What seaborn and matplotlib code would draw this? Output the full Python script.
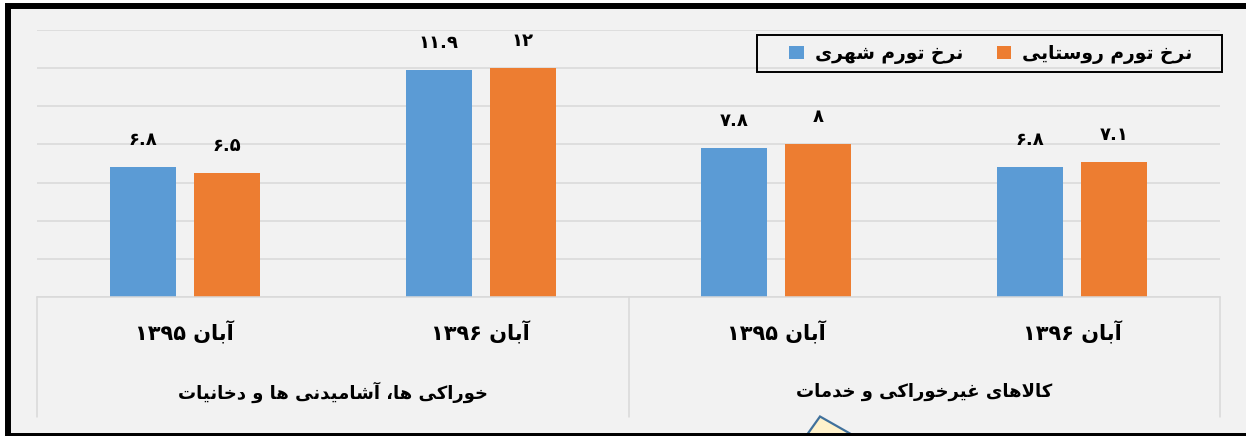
import re
import numpy as np
import pandas as pd
import matplotlib
matplotlib.use("Agg")
import matplotlib.pyplot as plt
import seaborn as sns
from matplotlib.patches import Rectangle, Polygon
from matplotlib.lines import Line2D
from matplotlib.transforms import blended_transform_factory

# ---------------------------------------------------------------------------
# DATA (left to right as shown on the chart)
# ---------------------------------------------------------------------------
periods = ["آبان ۱۳۹۵", "آبان ۱۳۹۶", "آبان ۱۳۹۵", "آبان ۱۳۹۶"]
groups = ["خوراکی ها، آشامیدنی ها و دخانیات", "کالاهای غیرخوراکی و خدمات"]
series = ["نرخ تورم شهری", "نرخ تورم روستایی"]
urban = [6.8, 11.9, 7.8, 6.8]
rural = [6.5, 12.0, 8.0, 7.1]

BLUE = "#5b9bd5"
ORANGE = "#ed7d31"
GRID = "#d9d9d9"
BG = "#f2f2f2"

# ---------------------------------------------------------------------------
# minimal Persian shaping (matplotlib has no bidi / joining support)
# forms: isolated, final, initial, medial
# ---------------------------------------------------------------------------
FORMS = {
    "\u0627": "\uFE8D\uFE8E",              # ا
    "\u0622": "\uFE81\uFE82",              # آ
    "\u062F": "\uFEA9\uFEAA",              # د
    "\u0631": "\uFEAD\uFEAE",              # ر
    "\u0648": "\uFEED\uFEEE",              # و
    "\u0628": "\uFE8F\uFE90\uFE91\uFE92",  # ب
    "\u062A": "\uFE95\uFE96\uFE97\uFE98",  # ت
    "\u062E": "\uFEA5\uFEA6\uFEA7\uFEA8",  # خ
    "\u0633": "\uFEB1\uFEB2\uFEB3\uFEB4",  # س
    "\u0634": "\uFEB5\uFEB6\uFEB7\uFEB8",  # ش
    "\u063A": "\uFECD\uFECE\uFECF\uFED0",  # غ
    "\u0644": "\uFEDD\uFEDE\uFEDF\uFEE0",  # ل
    "\u0645": "\uFEE1\uFEE2\uFEE3\uFEE4",  # م
    "\u0646": "\uFEE5\uFEE6\uFEE7\uFEE8",  # ن
    "\u0647": "\uFEE9\uFEEA\uFEEB\uFEEC",  # ه
    "\u06CC": "\uFBFC\uFBFD\uFBFE\uFBFF",  # ی
    "\u06A9": "\uFB8E\uFB8F\uFB90\uFB91",  # ک
}
LAM_ALEF = {"\u0627": "\uFEFB\uFEFC", "\u0622": "\uFEF5\uFEF6"}
DIGITS = "۰۱۲۳۴۵۶۷۸۹"


def joins_next(ch):
    return ch in FORMS and len(FORMS[ch]) == 4


def shape(text):
    out = []
    i = 0
    while i < len(text):
        ch = text[i]
        prev = text[i - 1] if i > 0 else ""
        nxt = text[i + 1] if i + 1 < len(text) else ""
        if ch not in FORMS:
            out.append(ch)
            i += 1
            continue
        linked = joins_next(prev)
        if ch == "\u0644" and nxt in LAM_ALEF:
            out.append(LAM_ALEF[nxt][1 if linked else 0])
            i += 2
            continue
        forward = joins_next(ch) and nxt in FORMS
        idx = {(False, False): 0, (True, False): 1,
               (False, True): 2, (True, True): 3}[(linked, forward)]
        out.append(FORMS[ch][idx])
        i += 1
    return "".join(out)


def fa(text):
    """shape + put into visual (left-to-right) order, numbers stay LTR"""
    runs = re.findall(r"[۰-۹.]+|[^۰-۹.]+", shape(text))
    return "".join(r if r[0] in DIGITS else r[::-1] for r in reversed(runs))


def fa_num(v):
    return f"{v:g}".translate(str.maketrans("0123456789", DIGITS))


# ---------------------------------------------------------------------------
# table for seaborn
# ---------------------------------------------------------------------------
keys = [f"p{i}" for i in range(len(periods))]
df = pd.DataFrame({
    "key": keys * 2,
    "series": [fa(series[0])] * len(keys) + [fa(series[1])] * len(keys),
    "value": urban + rural,
})

sns.set_theme(style="white")
plt.rcParams["font.family"] = ["DejaVu Sans"]
plt.rcParams["font.weight"] = "bold"
plt.rcParams["text.color"] = "black"
plt.rcParams["xtick.color"] = "black"

W, H = 1246, 436
fig = plt.figure(figsize=(W / 100, H / 100), dpi=100, facecolor="white")

# outer frame + background
fig.add_artist(Rectangle((7.5 / W, 0), 1.5, 1 - 6 / H, transform=fig.transFigure,
                         facecolor=BG, edgecolor="none", zorder=-3))
fig.add_artist(Polygon([(803 / W, -0.01), (820 / W, 1 - 416.5 / H), (862 / W, -0.01)],
                       closed=True, transform=fig.transFigure, facecolor="#fff2cc",
                       edgecolor="#41719c", lw=1.6, zorder=-2))
fig.add_artist(Rectangle((7.5 / W, 0), 1.5, 1 - 6 / H, transform=fig.transFigure,
                         fill=False, edgecolor="black", lw=4.3, zorder=5))

ax = fig.add_axes([37 / W, 1 - 297 / H, (1220 - 37) / W, 267 / H])
ax.set_facecolor("none")

sns.barplot(data=df, x="key", y="value", hue="series", order=keys,
            hue_order=[fa(s) for s in series], palette=[BLUE, ORANGE],
            width=0.568, gap=0.213, saturation=1, linewidth=0, ax=ax)

ax.set_ylim(0, 14)
ax.set_xlim(-0.5, len(keys) - 0.5)
ax.set_yticks(np.arange(0, 15, 2))
ax.yaxis.grid(True, color=GRID, lw=1.1)
ax.set_axisbelow(True)
ax.tick_params(axis="y", length=0, labelleft=False)
ax.tick_params(axis="x", length=0, pad=17)
ax.set_xticks(range(len(keys)))
ax.set_xticklabels([fa(p) for p in periods], fontsize=15, fontweight="bold",
                   color="black")
ax.set_xlabel("")
ax.set_ylabel("")
for side in ["top", "right", "left"]:
    ax.spines[side].set_visible(False)
ax.spines["bottom"].set_color(GRID)
ax.spines["bottom"].set_linewidth(1.1)

# value labels
for cont, vals in zip(ax.containers, [urban, rural]):
    ax.bar_label(cont, labels=[fa_num(v) for v in vals], padding=13,
                 fontsize=13, fontweight="bold", color="black")

# category dividers and group labels below the axis
tr = blended_transform_factory(ax.transData, ax.transAxes)
for xpos in [-0.5, 1.5, 3.5]:
    ax.add_line(Line2D([xpos, xpos], [0, -120 / 267], transform=tr,
                       color=GRID, lw=1.1, clip_on=False))
for gi, g in enumerate(groups):
    ax.text(gi * 2 + 0.5, -95 / 267, fa(g), transform=tr, ha="center", va="center",
            fontsize=13, fontweight="bold", color="black")

# legend: entries centred in a box drawn separately (box padding as in Excel)
ax.get_legend().remove()
handles, labels = ax.get_legend_handles_labels()
leg = fig.legend(handles, labels, loc="center",
                 bbox_to_anchor=(991 / W, 1 - 54 / H),
                 ncol=2, frameon=False, prop={"size": 13.5, "weight": "bold"},
                 handlelength=0.75, handleheight=0.75, handletextpad=0.6,
                 columnspacing=1.8)
for t in leg.get_texts():
    t.set_color("black")
fig.add_artist(Rectangle((757 / W, 1 - 72 / H), (1222 - 757) / W, 37 / H,
                         transform=fig.transFigure, fill=False,
                         edgecolor="black", lw=1.4, zorder=4))

fig.savefig("out.png", dpi=100, facecolor=fig.get_facecolor())
